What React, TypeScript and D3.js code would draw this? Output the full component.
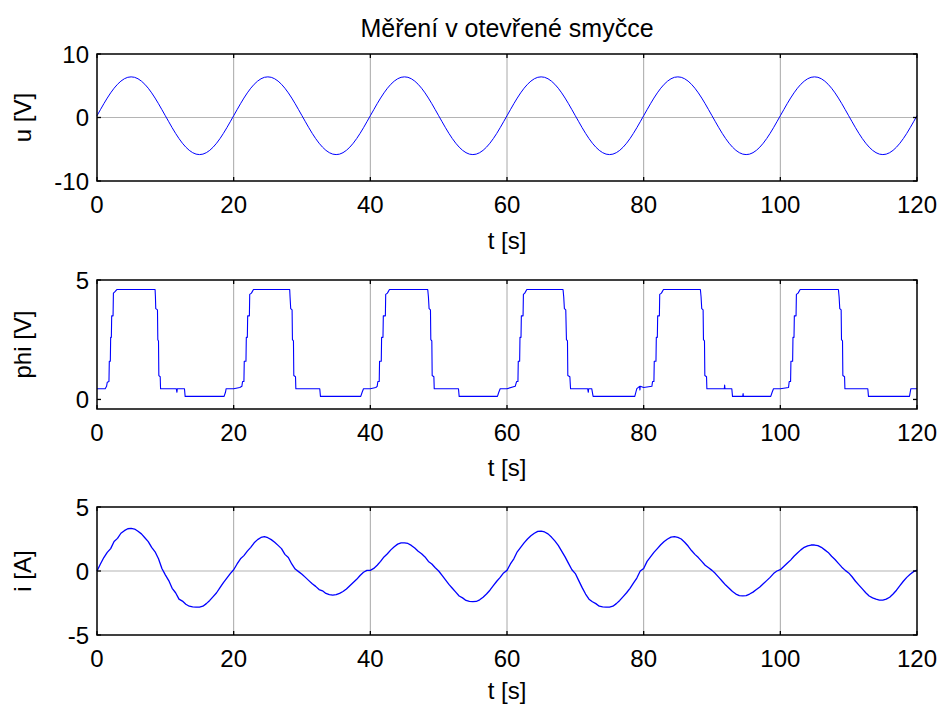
import React from "react";
import * as d3 from "d3";

// ---------- DATA ----------
const title = "Měření v otevřené smyčce";
const xTicks = [0, 20, 40, 60, 80, 100, 120];
const uTicks = [-10, 0, 10];
const phiTicks = [0, 5];
const iTicks = [-5, 0, 5];
const sampleStep = 0.5; // seconds between samples for u and i

// u [V], sampled every 0.5 s from 0 to 120 s
const uValues = [
  0.28, 1.23, 2.17, 3.06, 3.88, 4.61, 5.23, 5.73, 6.10, 6.33, 6.40, 6.33, 6.10, 5.73, 5.23, 4.61, 3.88, 3.06, 2.17, 1.23,
  0.28, -0.67, -1.61, -2.50, -3.32, -4.05, -4.67, -5.17, -5.54, -5.77, -5.84, -5.77, -5.54, -5.17, -4.67, -4.05, -3.32, -2.50, -1.61, -0.67,
  0.28, 1.23, 2.17, 3.06, 3.88, 4.61, 5.23, 5.73, 6.10, 6.33, 6.40, 6.33, 6.10, 5.73, 5.23, 4.61, 3.88, 3.06, 2.17, 1.23,
  0.28, -0.67, -1.61, -2.50, -3.32, -4.05, -4.67, -5.17, -5.54, -5.77, -5.84, -5.77, -5.54, -5.17, -4.67, -4.05, -3.32, -2.50, -1.61, -0.67,
  0.28, 1.23, 2.17, 3.06, 3.88, 4.61, 5.23, 5.73, 6.10, 6.33, 6.40, 6.33, 6.10, 5.73, 5.23, 4.61, 3.88, 3.06, 2.17, 1.23,
  0.28, -0.67, -1.61, -2.50, -3.32, -4.05, -4.67, -5.17, -5.54, -5.77, -5.84, -5.77, -5.54, -5.17, -4.67, -4.05, -3.32, -2.50, -1.61, -0.67,
  0.28, 1.23, 2.17, 3.06, 3.88, 4.61, 5.23, 5.73, 6.10, 6.33, 6.40, 6.33, 6.10, 5.73, 5.23, 4.61, 3.88, 3.06, 2.17, 1.23,
  0.28, -0.67, -1.61, -2.50, -3.32, -4.05, -4.67, -5.17, -5.54, -5.77, -5.84, -5.77, -5.54, -5.17, -4.67, -4.05, -3.32, -2.50, -1.61, -0.67,
  0.28, 1.23, 2.17, 3.06, 3.88, 4.61, 5.23, 5.73, 6.10, 6.33, 6.40, 6.33, 6.10, 5.73, 5.23, 4.61, 3.88, 3.06, 2.17, 1.23,
  0.28, -0.67, -1.61, -2.50, -3.32, -4.05, -4.67, -5.17, -5.54, -5.77, -5.84, -5.77, -5.54, -5.17, -4.67, -4.05, -3.32, -2.50, -1.61, -0.67,
  0.28, 1.23, 2.17, 3.06, 3.88, 4.61, 5.23, 5.73, 6.10, 6.33, 6.40, 6.33, 6.10, 5.73, 5.23, 4.61, 3.88, 3.06, 2.17, 1.23,
  0.28, -0.67, -1.61, -2.50, -3.32, -4.05, -4.67, -5.17, -5.54, -5.77, -5.84, -5.77, -5.54, -5.17, -4.67, -4.05, -3.32, -2.50, -1.61, -0.67,
  0.30,
];

// phi [V]: (time, value) breakpoints
const phiTimes = [
  0, 1.2, 1.4, 1.5, 1.75, 1.8, 1.95, 2.0, 2.1, 2.15, 2.35, 2.4, 2.6, 2.9, 8.5, 8.55, 8.6, 8.85, 8.9, 9.0, 9.05, 9.25, 9.3, 11.6, 11.7, 11.75, 12.8, 12.9, 18.6, 18.8, 18.9,
  20.0, 20.9, 21.2, 21.3, 21.5, 21.55, 21.8, 21.85, 22.0, 22.05, 22.3, 22.35, 22.6, 22.9, 28.2, 28.25, 28.35, 28.55, 28.6, 28.75, 28.8, 29.05, 29.1, 32.6, 32.7, 38.6, 38.8, 39.0,
  40.0, 40.8, 41.0, 41.1, 41.3, 41.35, 41.6, 41.65, 41.85, 41.9, 42.2, 42.25, 42.5, 42.8, 48.4, 48.5, 48.6, 48.8, 48.85, 49.0, 49.05, 49.3, 49.35, 52.9, 53.0, 58.6, 58.8, 59.0,
  60.0, 61.2, 61.4, 61.6, 61.65, 61.85, 61.9, 62.05, 62.1, 62.35, 62.4, 62.6, 62.9, 68.2, 68.3, 68.4, 68.6, 68.7, 68.85, 68.9, 69.2, 69.3, 71.8, 71.9, 71.95, 72.4, 72.6, 78.7, 78.9, 79.0, 79.4, 79.45, 79.5,
  80.0, 81.2, 81.3, 81.5, 81.55, 81.8, 81.85, 82.0, 82.05, 82.3, 82.35, 82.6, 82.9, 88.3, 88.4, 88.5, 88.7, 88.75, 88.9, 88.95, 89.2, 89.25, 91.8, 91.85, 91.9, 92.9, 93.0, 94.5, 94.55, 94.6, 98.6, 98.8, 99.0,
  100.0, 101.2, 101.3, 101.5, 101.55, 101.8, 101.85, 102.0, 102.05, 102.3, 102.35, 102.6, 102.9, 108.5, 108.6, 108.7, 108.9, 108.95, 109.1, 109.15, 109.4, 109.45, 112.8, 112.9, 118.9, 119.1, 120.0,
];
const phiValues = [
  0.45, 0.45, 0.55, 0.72, 0.75, 1.6, 1.6, 2.6, 2.6, 3.5, 3.5, 4.45, 4.5, 4.6, 4.6, 4.3, 3.8, 3.75, 2.5, 2.45, 1.0, 0.95, 0.45, 0.45, 0.3, 0.45, 0.45, 0.13, 0.13, 0.3, 0.45,
  0.45, 0.5, 0.55, 0.75, 0.75, 1.6, 1.6, 2.6, 2.6, 3.5, 3.5, 4.4, 4.45, 4.6, 4.6, 4.3, 3.8, 3.75, 2.5, 2.45, 1.0, 0.95, 0.45, 0.45, 0.13, 0.13, 0.3, 0.45,
  0.45, 0.5, 0.55, 0.75, 0.75, 1.6, 1.6, 2.6, 2.6, 3.5, 3.5, 4.4, 4.45, 4.6, 4.6, 4.3, 3.8, 3.75, 2.5, 2.45, 1.0, 0.95, 0.45, 0.45, 0.13, 0.13, 0.3, 0.45,
  0.45, 0.55, 0.75, 0.75, 1.6, 1.6, 2.6, 2.6, 3.5, 3.5, 4.4, 4.45, 4.6, 4.6, 4.3, 3.8, 3.75, 2.5, 2.45, 1.0, 0.95, 0.45, 0.45, 0.3, 0.45, 0.45, 0.13, 0.13, 0.35, 0.45, 0.55, 0.4, 0.55,
  0.5, 0.55, 0.75, 0.75, 1.6, 1.6, 2.6, 2.6, 3.5, 3.5, 4.4, 4.45, 4.6, 4.6, 4.3, 3.8, 3.75, 2.5, 2.45, 1.0, 0.95, 0.45, 0.45, 0.6, 0.45, 0.45, 0.13, 0.13, 0.25, 0.13, 0.13, 0.3, 0.45,
  0.45, 0.5, 0.75, 0.75, 1.6, 1.6, 2.6, 2.6, 3.5, 3.5, 4.4, 4.45, 4.6, 4.6, 4.3, 3.8, 3.75, 2.5, 2.45, 1.0, 0.95, 0.45, 0.45, 0.13, 0.13, 0.45, 0.45,
];

// i [A], sampled every 0.5 s from 0 to 120 s
const iValues = [
  0.0, 0.55, 1.05, 1.45, 1.75, 2.3, 2.55, 2.95, 3.15, 3.3, 3.33, 3.28, 3.1, 2.9, 2.6, 2.3, 1.85, 1.5, 0.95, 0.2,
  -0.3, -0.75, -1.35, -1.7, -2.2, -2.35, -2.6, -2.75, -2.8, -2.82, -2.82, -2.75, -2.55, -2.3, -2.0, -1.7, -1.3, -0.9, -0.55, -0.2,
  0.1, 0.55, 0.95, 1.2, 1.55, 1.85, 2.2, 2.45, 2.62, 2.68, 2.6, 2.45, 2.25, 2.0, 1.75, 1.3, 1.05, 0.55, 0.15, -0.05,
  -0.25, -0.5, -0.75, -1.0, -1.2, -1.45, -1.55, -1.75, -1.85, -1.88, -1.85, -1.75, -1.6, -1.4, -1.15, -0.9, -0.65, -0.35, -0.1, 0.05,
  0.05, 0.2, 0.45, 0.75, 1.1, 1.35, 1.65, 1.9, 2.1, 2.2, 2.2, 2.15, 2.0, 1.8, 1.55, 1.35, 1.1, 0.75, 0.55, 0.25,
  0.0, -0.35, -0.7, -1.05, -1.35, -1.65, -1.95, -2.1, -2.3, -2.38, -2.4, -2.38, -2.25, -2.05, -1.8, -1.5, -1.15, -0.8, -0.5, -0.15,
  0.05, 0.55, 0.95, 1.5, 1.85, 2.2, 2.5, 2.75, 2.95, 3.1, 3.12, 3.05, 2.9, 2.65, 2.35, 2.0, 1.55, 1.1, 0.6, 0.1,
  -0.2, -0.75, -1.3, -1.8, -2.2, -2.4, -2.55, -2.75, -2.8, -2.82, -2.82, -2.75, -2.55, -2.3, -2.0, -1.7, -1.35, -0.95, -0.55, 0.0,
  0.2, 0.75, 1.1, 1.45, 1.75, 2.05, 2.3, 2.5, 2.65, 2.68, 2.62, 2.5, 2.25, 1.95, 1.6, 1.3, 1.05, 0.75, 0.45, 0.25,
  0.05, -0.2, -0.5, -0.8, -1.1, -1.35, -1.6, -1.8, -1.92, -1.95, -1.92, -1.8, -1.65, -1.45, -1.25, -1.0, -0.75, -0.5, -0.2, 0.0,
  0.1, 0.35, 0.6, 0.85, 1.15, 1.4, 1.65, 1.85, 1.97, 2.03, 2.03, 1.98, 1.85, 1.65, 1.45, 1.15, 0.9, 0.6, 0.3, 0.05,
  -0.15, -0.45, -0.8, -1.1, -1.4, -1.7, -1.95, -2.1, -2.2, -2.27, -2.27, -2.2, -2.05, -1.8, -1.5, -1.15, -0.8, -0.5, -0.25, -0.05,
  0.08,
];

// ---------- LAYOUT ----------
const W = 942;
const H = 704;
const X0 = 97;
const X1 = 917;
const FONT = "'Liberation Sans', Arial, sans-serif";
const FS = 24;
const LINE = "#0000ff";

type Pt = [number, number];

const uData: Pt[] = uValues.map((v, k) => [k * sampleStep, v]);
const iData: Pt[] = iValues.map((v, k) => [k * sampleStep, v]);
const phiData: Pt[] = phiTimes.map((t, k) => [t, phiValues[k]]);

const panelDefs = [
  { top: 54, bottom: 181, domain: [-10, 10], ticks: uTicks, hgrid: [0], label: "u [V]", data: uData, sw: 1, xlab: 59 },
  { top: 280, bottom: 409, domain: [-0.4, 5], ticks: phiTicks, hgrid: [] as number[], label: "phi [V]", data: phiData, sw: 1.1, xlab: 58 },
  { top: 507, bottom: 635, domain: [-5, 5], ticks: iTicks, hgrid: [0], label: "i [A]", data: iData, sw: 1.3, xlab: 55 },
];

function Panel({ p }: { p: (typeof panelDefs)[number] }) {
  const x = d3.scaleLinear().domain([0, 120]).range([X0, X1]);
  const y = d3.scaleLinear().domain(p.domain).range([p.bottom, p.top]);
  const line = d3
    .line<Pt>()
    .x((d) => x(d[0]))
    .y((d) => y(d[1]));
  const tl = 4;
  return (
    <g>
      {xTicks
        .filter((t) => t > 0 && t < 120)
        .map((t) => (
          <line key={"gx" + t} x1={x(t)} x2={x(t)} y1={p.top} y2={p.bottom} stroke="#a8a8a8" strokeWidth={1} />
        ))}
      {p.hgrid.map((v) => (
        <line key={"gy" + v} x1={X0} x2={X1} y1={y(v)} y2={y(v)} stroke="#b4b4b4" strokeWidth={1.2} />
      ))}
      <path d={line(p.data) || ""} fill="none" stroke={LINE} strokeWidth={p.sw} strokeLinejoin="round" />
      {xTicks.map((t) => (
        <g key={"tx" + t}>
          <line x1={x(t)} x2={x(t)} y1={p.bottom} y2={p.bottom - tl} stroke="#000" strokeWidth={1.3} />
          <line x1={x(t)} x2={x(t)} y1={p.top} y2={p.top + tl} stroke="#000" strokeWidth={1.3} />
          <text x={x(t)} y={p.bottom + 23} textAnchor="middle" dominantBaseline="central" fontFamily={FONT} fontSize={FS} fill="#000">
            {t}
          </text>
        </g>
      ))}
      {p.ticks.map((v) => (
        <g key={"ty" + v}>
          <line x1={X0} x2={X0 + tl} y1={y(v)} y2={y(v)} stroke="#000" strokeWidth={1.3} />
          <line x1={X1} x2={X1 - tl} y1={y(v)} y2={y(v)} stroke="#000" strokeWidth={1.3} />
          <text x={X0 - 8} y={y(v)} textAnchor="end" dominantBaseline="central" fontFamily={FONT} fontSize={FS} fill="#000">
            {v}
          </text>
        </g>
      ))}
      <rect x={X0} y={p.top} width={X1 - X0} height={p.bottom - p.top} fill="none" stroke="#000" strokeWidth={1.5} />
      <text x={X0 + (X1 - X0) / 2} y={p.bottom + p.xlab} textAnchor="middle" dominantBaseline="central" fontFamily={FONT} fontSize={FS} fill="#000">
        t [s]
      </text>
      <text
        transform={`translate(22, ${(p.top + p.bottom) / 2}) rotate(-90)`}
        textAnchor="middle"
        dominantBaseline="central"
        fontFamily={FONT}
        fontSize={FS}
        fill="#000"
      >
        {p.label}
      </text>
    </g>
  );
}

export default function App() {
  return (
    <svg width={W} height={H} style={{ display: "block", position: "absolute", left: 0, top: 0, background: "#fff" }}>
      <rect x={0} y={0} width={W} height={H} fill="#fff" />
      <text x={X0 + (X1 - X0) / 2} y={28} textAnchor="middle" dominantBaseline="central" fontFamily={FONT} fontSize={25} fill="#000">
        {title}
      </text>
      {panelDefs.map((p, k) => (
        <Panel key={k} p={p} />
      ))}
    </svg>
  );
}
